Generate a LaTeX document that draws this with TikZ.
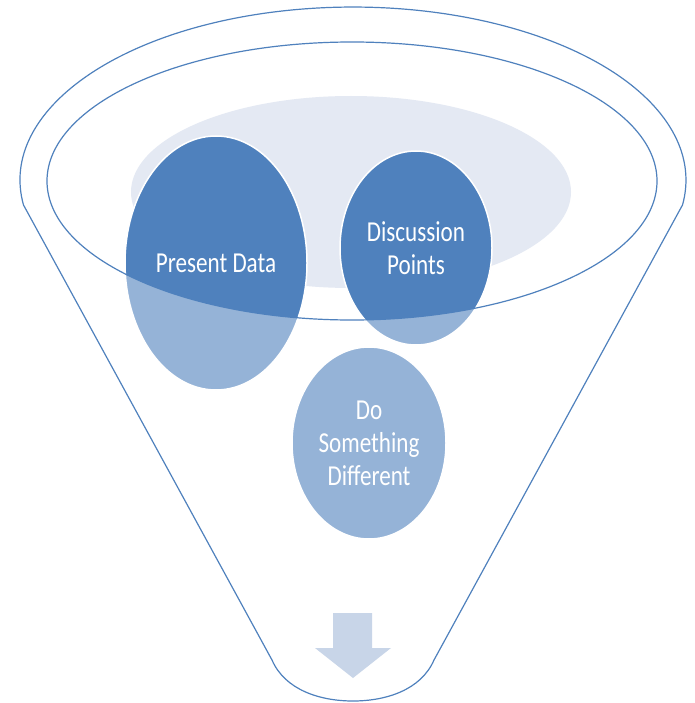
\documentclass[tikz,border=0pt]{standalone}
\usepackage{graphicx}
\usepackage{fontspec}
\setmainfont{Carlito}
\usetikzlibrary{shapes.geometric}
\definecolor{dblue}{HTML}{4F81BD}
\definecolor{lblue}{HTML}{95B3D7}
\definecolor{rimline}{HTML}{4F81BD}
\definecolor{greyfill}{HTML}{E4E9F3}
\definecolor{arrowfill}{HTML}{C8D5E8}
\newcommand\hsquash[1]{\scalebox{0.8}[1]{#1}}
\begin{document}
\begin{tikzpicture}[x=1bp,y=-1bp,
  funnelline/.style={draw=rimline, line width=1.2bp},
  bubble/.style={ellipse, inner sep=0pt, fill=lblue, draw=white, line width=1.5bp,
    text=white, font=\fontsize{29}{33}\selectfont, align=center,
    path picture={\fill[dblue] (rimc) ellipse [x radius=305bp, y radius=139bp];}},
]
\useasboundingbox (0,0) rectangle (695,703);
% outer funnel body
\path[funnelline, fill=white] (23.5,205) arc[start angle=171.7, end angle=368.3, x radius=333, y radius=173]
  -- (434,660) .. controls (421,690) and (386,701) .. (353,701)
  .. controls (320,701) and (285,690) .. (272,660) -- cycle;
% inner rim ellipse centre
\coordinate (rimc) at (352,181);
% grey background ellipse
\fill[greyfill] (351,192) ellipse [x radius=220, y radius=96];
% bubbles
\node[bubble, minimum width=182bp, minimum height=254bp] (pd) at (216,263) {\hsquash{Present Data}};
\node[bubble, minimum width=152bp, minimum height=194bp] (dp) at (416,248) {\hsquash{Discussion}\\\hsquash{Points}};
\node[bubble, minimum width=154bp, minimum height=192bp] (dsd) at (369,443) {\hsquash{Do}\\\hsquash{Something}\\\hsquash{Different}};
% rim line on top
\draw[funnelline] (rimc) ellipse [x radius=305, y radius=139];
% down arrow
\fill[arrowfill] (333,613) -- (372,613) -- (372,648) -- (391,648) -- (353,678) -- (315,648) -- (333,648) -- cycle;
\end{tikzpicture}
\end{document}
